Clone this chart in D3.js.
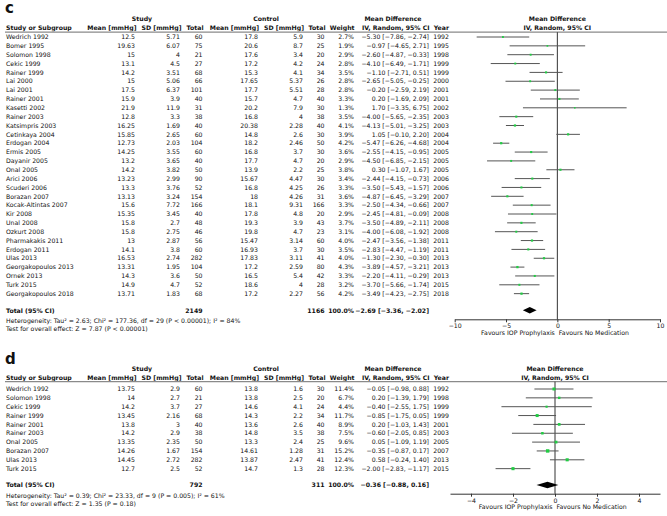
<!DOCTYPE html>
<html><head><meta charset="utf-8">
<script src="https://cdn.jsdelivr.net/npm/d3@7"></script>
<style>
body{margin:0;background:#fff;}
svg{display:block;font-family:"DejaVu Sans",Verdana,sans-serif;}
</style></head><body>
<svg id="chart" width="667" height="516"></svg>
<script>
// ---------- Panel c data ----------
const cStudies = ["Wedrich 1992","Bomer 1995","Solomon 1998","Cekic 1999","Rainer 1999","Lai 2000","Lai 2001","Rainer 2001","Kasetti 2002","Rainer 2003","Katsimpris 2003","Cetinkaya 2004","Erdogan 2004","Ermis 2005","Dayanir 2005","Onal 2005","Arici 2006","Scuderi 2006","Borazan 2007","Kocak-Altintas 2007","Kir 2008","Unal 2008","Ozkurt 2008","Pharmakakis 2011","Erdogan 2011","Ulas 2013","Georgakopoulos 2013","Ornek 2013","Turk 2015","Georgakopoulos 2018"];
const cExpMean = [12.5,19.63,15,13.1,14.2,15,17.5,15.9,21.9,12.8,16.25,15.85,12.73,14.25,13.2,14.2,13.23,13.3,13.13,15.6,15.35,15.8,15.8,13,14.1,16.53,13.31,14.3,14.9,13.71];
const cExpSD = [5.71,6.07,4,4.5,3.51,5.06,6.37,3.9,11.9,3.3,1.69,2.65,2.03,3.55,3.65,3.82,2.99,3.76,3.24,7.72,3.45,2.7,2.75,2.87,3.8,2.74,1.95,3.6,4.7,1.83];
const cExpN = [60,75,21,27,68,66,101,40,31,38,40,60,104,60,40,50,90,52,154,166,40,48,46,56,60,282,104,50,52,68];
const cCtlMean = [17.8,20.6,17.6,17.2,15.3,17.65,17.7,15.7,20.2,16.8,20.38,14.8,18.2,16.8,17.7,13.9,15.67,16.8,18,18.1,17.8,19.3,19.8,15.47,16.93,17.83,17.2,16.5,18.6,17.2];
const cCtlSD = [5.9,8.7,3.4,4.2,4.1,5.37,5.51,4.7,7.9,4,2.28,2.6,2.46,3.7,4.7,2.2,4.47,4.25,4.26,9.31,4.8,3.9,4.7,3.14,3.7,3.11,2.59,5.4,4,2.27];
const cCtlN = [30,25,20,24,34,26,28,40,30,38,40,30,50,30,20,25,30,26,31,166,20,43,23,60,30,41,80,42,28,56];
const cWeight = [2.7,1.9,2.9,2.8,3.5,2.8,2.8,3.3,1.3,3.5,4.1,3.9,4.2,3.6,2.9,3.8,3.4,3.3,3.6,3.3,2.9,3.7,3.1,4.0,3.5,4.0,4.3,3.3,3.2,4.2];
const cMD = [-5.30,-0.97,-2.60,-4.10,-1.10,-2.65,-0.20,0.20,1.70,-4.00,-4.13,1.05,-5.47,-2.55,-4.50,0.30,-2.44,-3.50,-4.87,-2.50,-2.45,-3.50,-4.00,-2.47,-2.83,-1.30,-3.89,-2.20,-3.70,-3.49];
const cLo = [-7.86,-4.65,-4.87,-6.49,-2.71,-5.05,-2.59,-1.69,-3.35,-5.65,-5.01,-0.10,-6.26,-4.15,-6.85,-1.07,-4.15,-5.43,-6.45,-4.34,-4.81,-4.89,-6.08,-3.56,-4.47,-2.30,-4.57,-4.11,-5.66,-4.23];
const cHi = [-2.74,2.71,-0.33,-1.71,0.51,-0.25,2.19,2.09,6.75,-2.35,-3.25,2.20,-4.68,-0.95,-2.15,1.67,-0.73,-1.57,-3.29,-0.66,-0.09,-2.11,-1.92,-1.38,-1.19,-0.30,-3.21,-0.29,-1.74,-2.75];
const cYear = [1992,1995,1998,1999,1999,2000,2001,2001,2002,2003,2003,2004,2004,2005,2005,2005,2006,2006,2007,2007,2008,2008,2008,2011,2011,2013,2013,2013,2015,2018];
const cTotal = [2149,1166]; // experimental N, control N
const cPooled = [-2.69,-3.36,-2.02];
const cHet = "Heterogeneity: Tau\u00B2 = 2.63; Chi\u00B2 = 177.36, df = 29 (P < 0.00001); I\u00B2 = 84%";
const cTest = "Test for overall effect: Z = 7.87 (P < 0.00001)";
const cTicks = [-10,-5,0,5,10];

// ---------- Panel d data ----------
const dStudies = ["Wedrich 1992","Solomon 1998","Cekic 1999","Rainer 1999","Rainer 2001","Rainer 2003","Onal 2005","Borazan 2007","Ulas 2013","Turk 2015"];
const dExpMean = [13.75,14,14.2,13.45,13.8,14.2,13.35,14.26,14.45,12.7];
const dExpSD = [2.9,2.7,3.7,2.16,3,2.9,2.35,1.67,2.72,2.5];
const dExpN = [60,21,27,68,40,38,50,154,282,52];
const dCtlMean = [13.8,13.8,14.6,14.3,13.6,14.8,13.3,14.61,13.87,14.7];
const dCtlSD = [1.6,2.5,4.1,2.2,2.6,3.5,2.4,1.28,2.47,1.3];
const dCtlN = [30,20,24,34,40,38,25,31,41,28];
const dWeight = [11.4,6.7,4.4,11.7,8.9,7.5,9.6,15.2,12.4,12.3];
const dMD = [-0.05,0.20,-0.40,-0.85,0.20,-0.60,0.05,-0.35,0.58,-2.00];
const dLo = [-0.98,-1.39,-2.55,-1.75,-1.03,-2.05,-1.09,-0.87,-0.24,-2.83];
const dHi = [0.88,1.79,1.75,0.05,1.43,0.85,1.19,0.17,1.40,-1.17];
const dYear = [1992,1998,1999,1999,2001,2003,2005,2007,2013,2015];
const dTotal = [792,311];
const dPooled = [-0.36,-0.88,0.16];
const dHet = "Heterogeneity: Tau\u00B2 = 0.39; Chi\u00B2 = 23.33, df = 9 (P = 0.005); I\u00B2 = 61%";
const dTest = "Test for overall effect: Z = 1.35 (P = 0.18)";
const dTicks = [-4,-2,0,2,4];

const favours = ["Favours IOP Prophylaxis","Favours No Medication"];

// ---------- drawing ----------
const svg = d3.select("#chart");
const FS = 6.2;
const minus = s => s.replace(/-/g, "\u2212");
const fmt2 = v => minus(v.toFixed(2));
const ciText = (m,l,h) => `${fmt2(m)} [${fmt2(l)}, ${fmt2(h)}]`;

const col = {name:6, eMean:135, eSD:180, eN:202.5, cMean:258, cSD:303, cN:324.5, w:354, ci:429, year:449};

function txt(g, x, y, s, anchor, bold, size){
  return g.append("text").attr("x", x).attr("y", y).attr("dy","0.36em")
    .attr("text-anchor", anchor||"start").attr("font-size", size||FS)
    .attr("font-weight", bold?"bold":"normal").attr("fill","#111").text(s);
}

function panel(o){
  const g = svg.append("g");
  txt(g, 5, o.labelY, o.label, "start", true, 15);
  // group headers
  txt(g, 142, o.top, "Study", "middle", true);
  txt(g, 266, o.top, "Control", "middle", true);
  txt(g, 393, o.top, "Mean Difference", "middle", true);
  const pc = (o.x.range()[0]+o.x.range()[1])/2;
  txt(g, pc, o.top, "Mean Difference", "middle", true);
  const hy = o.top + 9;
  txt(g, col.name, hy, "Study or Subgroup", "start", true);
  txt(g, col.eMean+1.5, hy, "Mean [mmHg]", "end", true);
  txt(g, col.eSD+1.5, hy, "SD [mmHg]", "end", true);
  txt(g, col.eN+1, hy, "Total", "end", true);
  txt(g, col.cMean+1, hy, "Mean [mmHg]", "end", true);
  txt(g, col.cSD+1, hy, "SD [mmHg]", "end", true);
  txt(g, col.cN+1, hy, "Total", "end", true);
  txt(g, col.w+0.5, hy, "Weight", "end", true);
  txt(g, col.ci+0.5, hy, "IV, Random, 95% CI", "end", true);
  txt(g, col.year, hy, "Year", "end", true);
  txt(g, pc, hy, "IV, Random, 95% CI", "middle", true);
  const lineY = hy + 4.2;
  g.append("line").attr("x1",5).attr("x2",667).attr("y1",lineY).attr("y2",lineY)
    .attr("stroke","#8a8a8a").attr("stroke-width",1.3);

  const y = o.y;
  const rows = g.selectAll("g.row").data(o.studies.map((s,i)=>i)).join("g").attr("class","row");
  rows.each(function(i){
    const r = d3.select(this), yy = y(i);
    txt(r, col.name, yy, o.studies[i]);
    txt(r, col.eMean, yy, String(o.eMean[i]), "end");
    txt(r, col.eSD, yy, String(o.eSD[i]), "end");
    txt(r, col.eN, yy, String(o.eN[i]), "end");
    txt(r, col.cMean, yy, String(o.cMean[i]), "end");
    txt(r, col.cSD, yy, String(o.cSD[i]), "end");
    txt(r, col.cN, yy, String(o.cN[i]), "end");
    txt(r, col.w, yy, o.w[i].toFixed(1)+"%", "end");
    txt(r, col.ci, yy, ciText(o.md[i], o.lo[i], o.hi[i]), "end");
    txt(r, col.year, yy, String(o.year[i]), "end");
  });

  const x = o.x;
  const axisY = o.axisY;
  // zero line
  g.append("line").attr("x1",x(0)).attr("x2",x(0)).attr("y1",lineY).attr("y2",axisY)
    .attr("stroke","#333").attr("stroke-width",1);
  // CIs
  g.selectAll("line.ci").data(o.studies.map((s,i)=>i)).join("line").attr("class","ci")
    .attr("x1", i=>x(o.lo[i])).attr("x2", i=>x(o.hi[i]))
    .attr("y1", i=>y(i)).attr("y2", i=>y(i))
    .attr("stroke","#555").attr("stroke-width",1);
  g.selectAll("rect.pt").data(o.studies.map((s,i)=>i)).join("rect").attr("class","pt")
    .attr("x", i=>x(o.md[i]) - o.sq(o.w[i])/2).attr("y", i=>y(i) - o.sq(o.w[i])/2)
    .attr("width", i=>o.sq(o.w[i])).attr("height", i=>o.sq(o.w[i]))
    .attr("fill","#22cc44");

  // total row
  const ty = o.totalY;
  txt(g, col.name, ty, "Total (95% CI)", "start", true);
  txt(g, col.eN, ty, String(o.total[0]), "end", true);
  txt(g, col.cN, ty, String(o.total[1]), "end", true);
  txt(g, col.w, ty, "100.0%", "end", true);
  txt(g, col.ci, ty, ciText(o.pooled[0], o.pooled[1], o.pooled[2]), "end", true);
  const dh = 3.2;
  g.append("path").attr("fill","#000")
    .attr("d", `M${x(o.pooled[1])},${ty} L${x(o.pooled[0])},${ty-dh} L${x(o.pooled[2])},${ty} L${x(o.pooled[0])},${ty+dh} Z`);
  txt(g, col.name, ty+10.4, o.het);
  txt(g, col.name, ty+18.6, o.test);

  // axis
  const ax = g.append("g").attr("transform",`translate(0,${axisY})`)
    .call(d3.axisBottom(x).tickValues(o.ticks).tickSizeInner(3).tickSizeOuter(0).tickPadding(1.5)
      .tickFormat(v => minus(String(v))));
  ax.select(".domain").attr("stroke","#333");
  ax.selectAll(".tick line").attr("stroke","#333");
  ax.selectAll("text").attr("font-size",FS).attr("font-family","DejaVu Sans, sans-serif").attr("fill","#111");
  txt(g, x(0)-2.5, axisY+13, favours[0], "end");
  txt(g, x(0)+1.5, axisY+13, favours[1], "start");
}

panel({
  label:"c", labelY:8, top:19,
  studies:cStudies, eMean:cExpMean, eSD:cExpSD, eN:cExpN, cMean:cCtlMean, cSD:cCtlSD, cN:cCtlN,
  w:cWeight, md:cMD, lo:cLo, hi:cHi, year:cYear, total:cTotal, pooled:cPooled, het:cHet, test:cTest, ticks:cTicks,
  y: d3.scalePoint().domain(d3.range(cStudies.length)).range([37, 37 + 8.85*(cStudies.length-1)]),
  x: d3.scaleLinear().domain([-10,10]).range([454.7,660]),
  sq: w => 1.2 + w*0.25,
  totalY:310.3, axisY:319.3
});

panel({
  label:"d", labelY:359, top:368.5,
  studies:dStudies, eMean:dExpMean, eSD:dExpSD, eN:dExpN, cMean:dCtlMean, cSD:dCtlSD, cN:dCtlN,
  w:dWeight, md:dMD, lo:dLo, hi:dHi, year:dYear, total:dTotal, pooled:dPooled, het:dHet, test:dTest, ticks:dTicks,
  y: d3.scalePoint().domain(d3.range(dStudies.length)).range([389, 389 + 8.85*(dStudies.length-1)]),
  x: d3.scaleLinear().domain([-5,5]).range([450,660]),
  sq: w => 1.6 + w*0.12,
  totalY:485, axisY:493.7
});
</script>
</body></html>
